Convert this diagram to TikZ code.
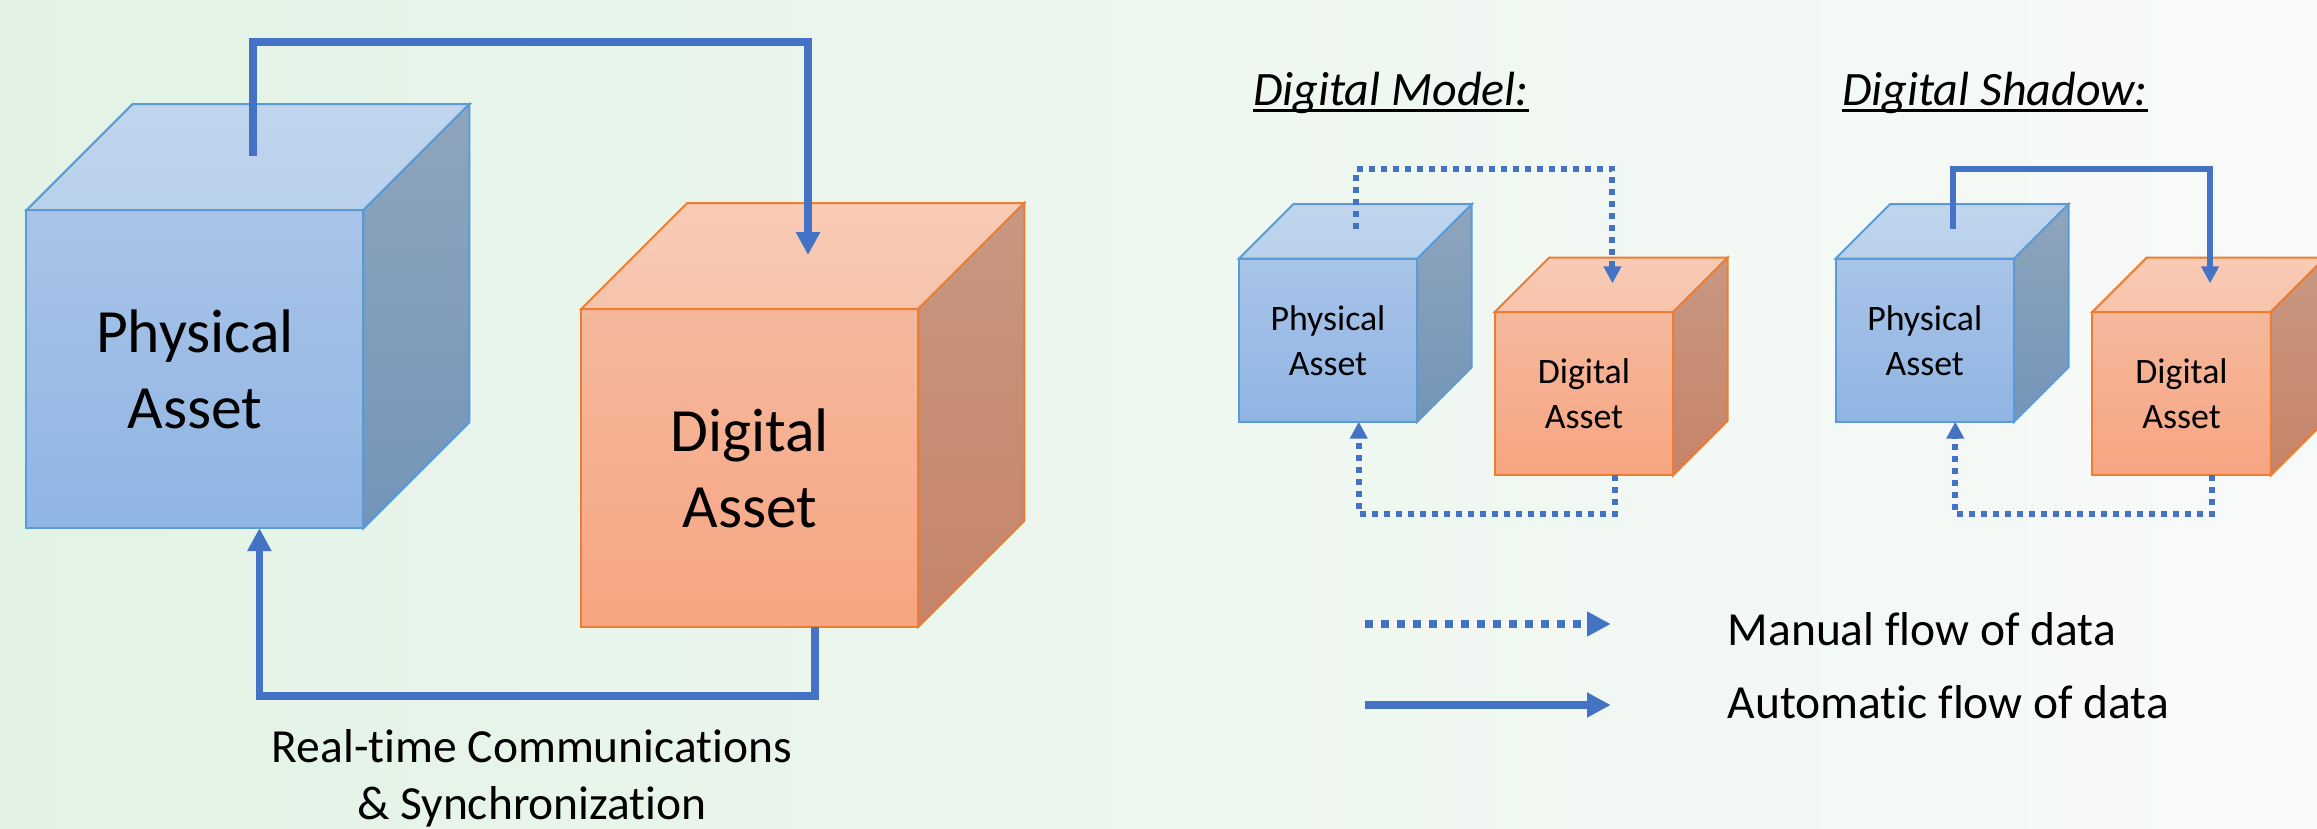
\documentclass[tikz,border=0pt]{standalone}
\usepackage{fontspec}
\setmainfont{Carlito}[Ligatures=NoCommon]
\usetikzlibrary{arrows.meta,calc}

\definecolor{arrowblue}{HTML}{4472C4}
\definecolor{bluedge}{HTML}{5B9BD5}
\definecolor{bluefronttop}{HTML}{A9C4E8}
\definecolor{bluefrontbot}{HTML}{8FB5E3}
\definecolor{bluetoptop}{HTML}{C0D5ED}
\definecolor{bluetopbot}{HTML}{BAD1EC}
\definecolor{bluesidetop}{HTML}{8FA5BC}
\definecolor{bluesidebot}{HTML}{7395B9}
\definecolor{orgedge}{HTML}{ED7D31}
\definecolor{orgfronttop}{HTML}{F5B89C}
\definecolor{orgfrontbot}{HTML}{F7A582}
\definecolor{orgtoptop}{HTML}{F9CBB5}
\definecolor{orgtopbot}{HTML}{F7C3AB}
\definecolor{orgsidetop}{HTML}{C89782}
\definecolor{orgsidebot}{HTML}{C68468}
\definecolor{bgleft}{HTML}{E2F3E5}
\definecolor{bgright}{HTML}{F8FAF9}

\newcommand{\fBig}{\fontsize{61.5pt}{76pt}\selectfont}
\newcommand{\fSmall}{\fontsize{35.8pt}{45pt}\selectfont}
\newcommand{\fLab}{\fontsize{47.5pt}{57pt}\selectfont}
\newcommand{\fTit}{\fontsize{48pt}{58pt}\selectfont\itshape}

\tikzset{
  bluefront/.style={draw=bluedge, top color=bluefronttop, bottom color=bluefrontbot},
  bluetop/.style={draw=bluedge, top color=bluetoptop, bottom color=bluetopbot},
  blueside/.style={draw=bluedge, top color=bluesidetop, bottom color=bluesidebot},
  orgfront/.style={draw=orgedge, top color=orgfronttop, bottom color=orgfrontbot},
  orgtop/.style={draw=orgedge, top color=orgtoptop, bottom color=orgtopbot},
  orgside/.style={draw=orgedge, top color=orgsidetop, bottom color=orgsidebot},
  face/.style={line width=2pt, line join=miter},
  bigarrow/.style={draw=arrowblue, line width=7.5pt, line join=miter, -{Triangle[width=23pt,length=23pt]}},
  smallauto/.style={draw=arrowblue, line width=6pt, line join=miter, -{Triangle[width=17pt,length=17pt]}},
  smallmanual/.style={smallauto, dash pattern=on 6pt off 6pt},
  legauto/.style={draw=arrowblue, line width=8pt, -{Triangle[width=23.5pt,length=23.5pt]}},
  legmanual/.style={legauto, line width=8pt, dash pattern=on 7.5pt off 8.5pt},
  plaintext/.style={inner sep=0pt, outer sep=0pt, text=black},
}

% name, scheme, x, y, w, h, depth, font, text
\newcommand{\mycube}[9]{%
  \node[#2front, face, outer sep=0pt, inner sep=0pt, minimum width=#5pt, minimum height=#6pt,
        anchor=north west, align=center, font=#8] (#1) at (#3,#4) {#9};
  \path[#2top, face] (#1.north west) -- ($(#1.north west)+(#7,-#7)$) -- ($(#1.north east)+(#7,-#7)$) -- (#1.north east) -- cycle;
  \path[#2side, face] (#1.north east) -- ($(#1.north east)+(#7,-#7)$) -- ($(#1.south east)+(#7,-#7)$) -- (#1.south east) -- cycle;
}

\begin{document}
\begin{tikzpicture}[x=1pt,y=-1pt]
\useasboundingbox (0,0) rectangle (2317,828);
\fill[left color=bgleft, right color=bgright] (0,0) rectangle (2317,828);
\clip (0,0) rectangle (2317,828);

% ---------- left: big cubes ----------
\mycube{bigP}{blue}{26.4}{210.2}{337}{318}{106}{\fBig}{Physical\\Asset}
\mycube{bigD}{org}{581.3}{309}{337}{318}{106}{\fBig}{Digital\\Asset}

\coordinate (bigTopY) at (0,42.2);
\coordinate (bigBotY) at (0,696);
\coordinate (bigPa) at ($(bigP.north)+(58.2,-54.2)$);
\coordinate (bigDa) at ($(bigD.north)+(58.2,-54)$);
\coordinate (bigDb) at ($(bigD.south)+(65,0)$);
\coordinate (bigPb) at ($(bigP.south)+(64.5,0)$);
\draw[bigarrow] (bigPa) -- (bigPa |- bigTopY) -- (bigDa |- bigTopY) -- (bigDa);
\draw[bigarrow] (bigDb) -- (bigDb |- bigBotY) -- (bigPb |- bigBotY) -- (bigPb);

\node[plaintext, font=\fLab, align=center] (sync) at (532,778) {Real-time Communications\\\& Synchronization};

% ---------- Digital Model ----------
\node[plaintext, font=\fTit, anchor=base west] (tModel) at (1253.3,105) {Digital Model:};
\draw[line width=2.7pt] ($(tModel.base west)+(0,5.7)$) -- ($(tModel.base east)+(0,5.7)$);

\mycube{mP}{blue}{1238.7}{258.7}{178.5}{163}{54.5}{\fSmall}{Physical\\Asset}
\mycube{mD}{org}{1494.7}{312}{178.5}{163.3}{54.5}{\fSmall}{Digital\\Asset}

\coordinate (mTopY) at (0,169.3);
\coordinate (mBotY) at (0,514.3);
\coordinate (mPa) at ($(mP.north)+(28.5,-29.5)$);
\coordinate (mDa) at ($(mD.north)+(28.5,-28.7)$);
\coordinate (mDb) at ($(mD.south)+(30.8,0)$);
\coordinate (mPb) at ($(mP.south)+(30.8,0)$);
\draw[smallmanual] (mPa) -- (mPa |- mTopY) -- (mDa |- mTopY) -- (mDa);
\draw[smallmanual] (mDb) -- (mDb |- mBotY) -- (mPb |- mBotY) -- (mPb);

% ---------- Digital Shadow ----------
\node[plaintext, font=\fTit, anchor=base west] (tShadow) at (1842.3,105) {Digital Shadow:};
\draw[line width=2.7pt] ($(tShadow.base west)+(0,5.7)$) -- ($(tShadow.base east)+(0,5.7)$);

\mycube{sP}{blue}{1835.5}{258.7}{178.5}{163}{54.5}{\fSmall}{Physical\\Asset}
\mycube{sD}{org}{2092.3}{312}{178.5}{163.3}{54.5}{\fSmall}{Digital\\Asset}

\coordinate (sTopY) at (0,169.3);
\coordinate (sBotY) at (0,514.3);
\coordinate (sPa) at ($(sP.north)+(28.5,-29.5)$);
\coordinate (sDa) at ($(sD.north)+(28.5,-28.7)$);
\coordinate (sDb) at ($(sD.south)+(30.5,0)$);
\coordinate (sPb) at ($(sP.south)+(30.5,0)$);
\draw[smallauto] (sPa) -- (sPa |- sTopY) -- (sDa |- sTopY) -- (sDa);
\draw[smallmanual] (sDb) -- (sDb |- sBotY) -- (sPb |- sBotY) -- (sPb);

% ---------- legend ----------
\coordinate (l1s) at (1365.3,624);
\coordinate (l1e) at (1610.7,624);
\coordinate (l2s) at (1365.3,705);
\coordinate (l2e) at (1610.7,705);
\draw[legmanual] (l1s) -- (l1e);
\draw[legauto] (l2s) -- (l2e);
\node[plaintext, font=\fLab, anchor=base west] (lManual) at (1727.7,645) {Manual flow of data};
\node[plaintext, font=\fLab, anchor=base west] (lAuto) at (1727.7,718.3) {Automatic flow of data};
\end{tikzpicture}
\end{document}
